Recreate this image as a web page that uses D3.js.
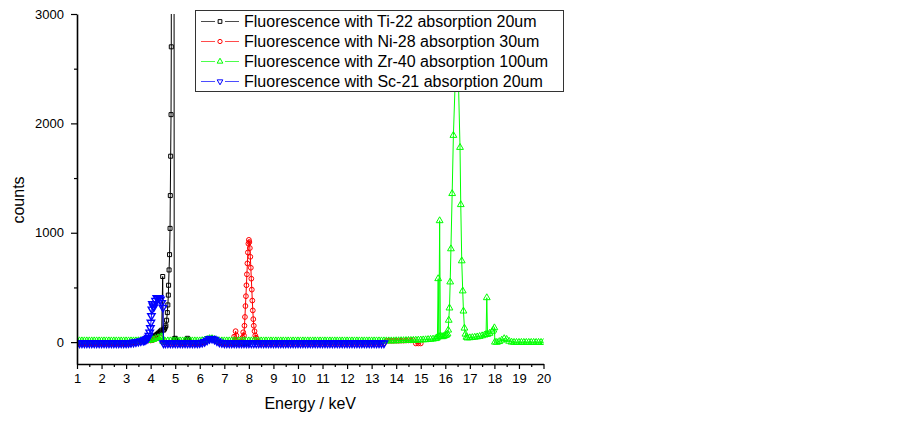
<!DOCTYPE html>
<html>
<head>
<meta charset="utf-8">
<script src="https://cdn.jsdelivr.net/npm/d3@7/dist/d3.min.js"></script>
<style>
  body { margin: 0; background: #fff; }
  text { font-family: "Liberation Sans", Arial, sans-serif; }
</style>
</head>
<body>
<svg id="chart" width="903" height="422"></svg>
<script>
// axis ticks
const xTicks = [1, 2, 3, 4, 5, 6, 7, 8, 9, 10, 11, 12, 13, 14, 15, 16, 17, 18, 19, 20];
const xMinorTicks = [1.5, 2.5, 3.5, 4.5, 5.5, 6.5, 7.5, 8.5, 9.5, 10.5, 11.5, 12.5, 13.5, 14.5, 15.5, 16.5, 17.5, 18.5, 19.5];
const yTicks = [0, 1000, 2000, 3000];
const yMinorTicks = [500, 1500, 2500];

const seriesNames = [
  "Fluorescence with Ti-22 absorption 20um",
  "Fluorescence with Ni-28 absorption 30um",
  "Fluorescence with Zr-40 absorption 100um",
  "Fluorescence with Sc-21 absorption 20um"
];
const seriesColors = ["#000000", "#ff0000", "#00ff00", "#0000ff"];

// [energy keV, counts]
const ti22 = [
  [1.0,-10],[1.1,-10],[1.2,-10],[1.3,-10],[1.4,-10],[1.5,-10],[1.6,-10],[1.7,-10],[1.8,-10],[1.9,-10],
  [2.0,-10],[2.1,-10],[2.2,-10],[2.3,-10],[2.4,-10],[2.5,-10],[2.6,-10],[2.7,-10],[2.8,-10],[2.9,-10],
  [3.0,-10],[3.1,-9],[3.2,-6],[3.3,-3],[3.4,1],[3.5,5],[3.6,10],[3.7,15],[3.8,20],[3.9,15],
  [4.0,15],[4.05,20],[4.1,40],[4.15,55],[4.2,60],[4.25,70],[4.3,80],[4.35,90],[4.4,100],[4.45,110],
  [4.49,600],[4.51,0],[4.53,110],[4.56,120],[4.59,135],[4.62,150],[4.65,200],[4.68,270],[4.7,340],
  [4.72,430],[4.73,520],[4.75,660],[4.77,800],[4.79,1040],[4.8,1340],[4.815,1700],[4.83,2080],[4.84,2700],
  [4.9,30000],[4.96,30],[5.0,35],[5.05,20],[5.1,5],[5.2,-5],[5.3,-8],[5.4,5],[5.45,25],[5.5,35],
  [5.55,25],[5.6,5],[5.7,-8],[5.8,-10],[5.9,-10],[6.0,-8],[6.1,-4],[6.2,3],[6.3,16],[6.4,30],
  [6.5,32],[6.6,23],[6.7,10],[6.8,-2],[6.9,-7],[7.0,-10],[7.1,-10],[7.2,-10],[7.3,-10],[7.4,-10],
  [7.5,-10],[7.6,-10],[7.7,-10],[7.8,-10],[7.9,-10],[8.0,-10]
];

const ni28 = [
  [1.0,-10],[1.1,-10],[1.2,-10],[1.3,-10],[1.4,-10],[1.5,-10],[1.6,-10],[1.7,-10],[1.8,-10],[1.9,-10],
  [2.0,-10],[2.1,-10],[2.2,-10],[2.3,-10],[2.4,-10],[2.5,-10],[2.6,-10],[2.7,-10],[2.8,-10],[2.9,-10],
  [3.0,-10],[3.1,-9],[3.2,-6],[3.3,-3],[3.4,1],[3.5,5],[3.6,10],[3.7,14],[3.8,14],[3.9,14],
  [4.0,15],[4.1,20],[4.2,30],[4.3,38],[4.4,42],[4.5,10],[4.6,-5],[4.7,-10],[4.8,-10],[4.9,-10],
  [5.0,-10],[5.1,-10],[5.2,-10],[5.3,-10],[5.4,-10],[5.5,-10],[5.6,-10],[5.7,-10],[5.8,-10],[5.9,-10],
  [6.0,-8],[6.1,-4],[6.2,3],[6.3,16],[6.4,30],[6.5,32],[6.6,23],[6.7,10],[6.8,-2],[6.9,-7],
  [7.0,-10],[7.1,-10],[7.2,-10],[7.3,-10],[7.36,-8],[7.4,50],[7.43,20],[7.46,100],[7.49,60],[7.52,10],
  [7.56,-5],[7.6,-8],[7.65,-5],[7.7,10],[7.74,40],[7.77,90],[7.8,60],[7.82,150],[7.84,230],[7.86,330],
  [7.88,420],[7.9,520],[7.92,620],[7.94,720],[7.96,820],[7.98,900],[8.0,935],[8.02,915],[8.04,860],[8.06,780],
  [8.08,680],[8.1,580],[8.12,480],[8.14,380],[8.16,290],[8.18,210],[8.2,150],[8.23,100],[8.26,60],[8.29,40],
  [8.32,30],[8.35,5],[8.4,-8],[8.5,-10],[8.6,-10],[8.7,-10],[8.8,-10],[8.9,-10],[9.0,-10],[9.1,-10],
  [9.2,-10],[9.3,-10],[9.4,-10],[9.5,-10],[9.6,-10],[9.7,-10],[9.8,-10],[9.9,-10],[10.0,-10],[10.1,-10],
  [10.2,-10],[10.3,-10],[10.4,-10],[10.5,-10],[10.6,-10],[10.7,-10],[10.8,-10],[10.9,-10],[11.0,-10],[11.1,-10],
  [11.2,-10],[11.3,-10],[11.4,-10],[11.5,-10],[11.6,-10],[11.7,-10],[11.8,-10],[11.9,-10],[12.0,-10],[12.1,-10],
  [12.2,-10],[12.3,-10],[12.4,-10],[12.5,-10],[12.6,-10],[12.7,-10],[12.8,-10],[12.9,-10],[13.0,-10],[13.1,-10],
  [13.2,-10],[13.3,-10],[13.4,-10],[13.5,-10],[13.6,12],[13.7,12],[13.8,12],[13.9,12],[14.0,13],[14.1,13],
  [14.2,14],[14.3,14],[14.4,15],[14.5,16],[14.6,16],[14.7,17],[14.8,-12],[14.9,-12],[15.0,-12]
];

const zr40 = [
  [1.0,12],[1.1,12],[1.2,12],[1.3,12],[1.4,12],[1.5,12],[1.6,12],[1.7,12],[1.8,12],[1.9,12],
  [2.0,12],[2.1,12],[2.2,12],[2.3,12],[2.4,12],[2.5,12],[2.6,12],[2.7,12],[2.8,12],[2.9,12],
  [3.0,12],[3.1,12],[3.2,12],[3.3,12],[3.4,12],[3.5,13],[3.6,14],[3.7,14],[3.8,15],[3.9,16],
  [4.0,18],[4.1,24],[4.2,32],[4.3,40],[4.4,45],[4.45,50],[4.5,8],[4.6,8],[4.7,12],[4.8,12],
  [4.9,12],[5.0,12],[5.1,12],[5.2,12],[5.3,12],[5.4,12],[5.5,12],[5.6,12],[5.7,12],[5.8,12],
  [5.9,12],[6.0,12],[6.1,14],[6.2,18],[6.3,24],[6.4,32],[6.5,32],[6.6,24],[6.7,16],[6.8,12],
  [6.9,12],[7.0,12],[7.1,12],[7.2,12],[7.3,12],[7.4,12],[7.5,12],[7.6,12],[7.7,12],[7.8,12],
  [7.9,12],[8.0,12],[8.1,12],[8.2,12],[8.3,12],[8.4,12],[8.5,12],[8.6,12],[8.7,12],[8.8,12],
  [8.9,12],[9.0,12],[9.1,12],[9.2,12],[9.3,12],[9.4,12],[9.5,12],[9.6,12],[9.7,12],[9.8,12],
  [9.9,12],[10.0,12],[10.1,12],[10.2,12],[10.3,12],[10.4,12],[10.5,12],[10.6,12],[10.7,12],[10.8,12],
  [10.9,12],[11.0,12],[11.1,12],[11.2,12],[11.3,12],[11.4,12],[11.5,12],[11.6,12],[11.7,12],[11.8,12],
  [11.9,12],[12.0,12],[12.1,12],[12.2,12],[12.3,12],[12.4,12],[12.5,12],[12.6,12],[12.7,12],[12.8,12],
  [12.9,12],[13.0,12],[13.1,12],[13.2,12],[13.3,12],[13.4,12],[13.5,12],[13.6,12],[13.7,12],[13.8,12],
  [13.9,12],[14.0,13],[14.1,13],[14.2,14],[14.3,14],[14.4,15],[14.5,16],[14.6,16],[14.7,17],[14.8,18],
  [14.9,19],[15.0,20],[15.1,21],[15.2,22],[15.3,24],[15.4,26],[15.5,28],[15.6,32],[15.65,36],[15.68,45],
  [15.71,580],[15.74,50],[15.77,1110],[15.8,55],[15.85,50],[15.9,50],[15.95,55],[16.0,60],[16.05,65],[16.09,75],
  [16.12,110],[16.14,200],[16.17,312],[16.2,550],[16.23,853],[16.28,1358],[16.33,1890],[16.48,2900],[16.6,1780],[16.63,1257],
  [16.67,743],[16.71,468],[16.74,284],[16.78,128],[16.82,73],[16.86,45],[16.9,38],[17.0,40],[17.1,42],[17.2,45],
  [17.3,48],[17.4,52],[17.5,58],[17.6,65],[17.66,70],[17.69,406],[17.72,72],[17.8,80],[17.9,95],[17.96,110],
  [18.0,131],[18.02,0],[18.1,-2],[18.2,5],[18.3,18],[18.4,32],[18.5,25],[18.6,8],[18.7,0],[18.8,-2],
  [18.9,-2],[19.0,-2],[19.1,-2],[19.2,-2],[19.3,-2],[19.4,-2],[19.5,-2],[19.6,-2],[19.7,-2],[19.8,-2],
  [19.9,-2],[20.0,-2]
];

const sc21 = [
  [1.0,-10],[1.1,-10],[1.2,-10],[1.3,-10],[1.4,-10],[1.5,-10],[1.6,-10],[1.7,-10],[1.8,-10],[1.9,-10],
  [2.0,-10],[2.1,-10],[2.2,-10],[2.3,-10],[2.4,-10],[2.5,-10],[2.6,-10],[2.7,-10],[2.8,-10],[2.9,-10],
  [3.0,-10],[3.1,-9],[3.2,-6],[3.3,-3],[3.4,1],[3.5,5],[3.6,10],[3.7,15],[3.75,18],[3.8,22],
  [3.85,30],[3.9,42],[3.93,60],[3.96,90],[3.99,130],[4.01,180],[4.03,240],[4.05,300],[4.07,350],[4.1,330],
  [4.13,320],[4.16,350],[4.2,380],[4.25,405],[4.3,400],[4.35,405],[4.4,390],[4.45,360],[4.5,315],[4.52,-10],
  [4.6,-10],[4.7,-10],[4.8,-10],[4.9,-10],[5.0,-10],[5.1,-10],[5.2,-10],[5.3,-10],[5.4,-10],[5.5,-10],
  [5.6,-10],[5.7,-10],[5.8,-10],[5.9,-10],[6.0,-8],[6.1,-4],[6.2,3],[6.3,16],[6.4,30],[6.5,32],
  [6.6,23],[6.7,10],[6.8,-2],[6.9,-7],[7.0,-10],[7.1,-10],[7.2,-10],[7.3,-10],[7.4,-10],[7.5,-10],
  [7.6,-10],[7.7,-10],[7.8,-10],[7.9,-10],[8.0,-10],[8.1,-10],[8.2,-10],[8.3,-10],[8.4,-10],[8.5,-10],
  [8.6,-10],[8.7,-10],[8.8,-10],[8.9,-10],[9.0,-10],[9.1,-10],[9.2,-10],[9.3,-10],[9.4,-10],[9.5,-10],
  [9.6,-10],[9.7,-10],[9.8,-10],[9.9,-10],[10.0,-10],[10.1,-10],[10.2,-10],[10.3,-10],[10.4,-10],[10.5,-10],
  [10.6,-10],[10.7,-10],[10.8,-10],[10.9,-10],[11.0,-10],[11.1,-10],[11.2,-10],[11.3,-10],[11.4,-10],[11.5,-10],
  [11.6,-10],[11.7,-10],[11.8,-10],[11.9,-10],[12.0,-10],[12.1,-10],[12.2,-10],[12.3,-10],[12.4,-10],[12.5,-10],
  [12.6,-10],[12.7,-10],[12.8,-10],[12.9,-10],[13.0,-10],[13.1,-10],[13.2,-10],[13.3,-10],[13.4,-10],[13.5,-10]
];

const allSeries = [ti22, ni28, zr40, sc21];
const symbolTypes = [d3.symbolSquare, d3.symbolCircle, d3.symbolTriangle, d3.symbolTriangle];
const symbolSizes = [16, 18, 20, 24];
const symbolRotate = [0, 0, 0, 180];
const symbolStroke = [1, 1, 1, 1.4];

const svg = d3.select("#chart");

const x = d3.scaleLinear().domain([1, 20]).range([77, 543.5]);
const y = d3.scaleLinear().domain([-200, 3000]).range([364, 14]);

svg.append("defs").append("clipPath").attr("id", "plotClip")
  .append("rect")
  .attr("x", x.range()[0])
  .attr("y", y.range()[1])
  .attr("width", x.range()[1] - x.range()[0])
  .attr("height", y.range()[0] - y.range()[1]);

// series, drawn in legend order so blue ends on top
const plot = svg.append("g").attr("clip-path", "url(#plotClip)");
const line = d3.line().x(d => x(d[0])).y(d => y(d[1]));

allSeries.forEach((data, i) => {
  const g = plot.append("g");
  g.append("path")
    .datum(data)
    .attr("d", line)
    .attr("fill", "none")
    .attr("stroke", seriesColors[i])
    .attr("stroke-width", 1);

  const sym = d3.symbol().type(symbolTypes[i]).size(symbolSizes[i]);
  g.selectAll("path.pt")
    .data(data)
    .join("path")
    .attr("class", "pt")
    .attr("d", sym)
    .attr("transform", d => `translate(${x(d[0])},${y(d[1])}) rotate(${symbolRotate[i]})`)
    .attr("fill", "none")
    .attr("stroke", seriesColors[i])
    .attr("stroke-width", symbolStroke[i]);
});

// axes
const xAxis = svg.append("g")
  .attr("transform", `translate(0,${y.range()[0]})`)
  .call(d3.axisBottom(x).tickValues(xTicks).tickSize(5).tickSizeOuter(0).tickPadding(5).tickFormat(d3.format("d")));
svg.append("g")
  .attr("transform", `translate(0,${y.range()[0]})`)
  .call(d3.axisBottom(x).tickValues(xMinorTicks).tickSize(3).tickSizeOuter(0).tickFormat(""))
  .call(g => g.select(".domain").remove());

const yAxis = svg.append("g")
  .attr("transform", `translate(${x.range()[0]},0)`)
  .call(d3.axisLeft(y).tickValues(yTicks).tickSize(6).tickSizeOuter(0).tickPadding(7).tickFormat(d3.format("d")));
svg.append("g")
  .attr("transform", `translate(${x.range()[0]},0)`)
  .call(d3.axisLeft(y).tickValues(yMinorTicks).tickSize(3).tickSizeOuter(0).tickFormat(""))
  .call(g => g.select(".domain").remove());

[xAxis, yAxis].forEach(a => {
  a.select(".domain").attr("stroke-width", 1.6);
  a.selectAll("text")
    .attr("font-size", 13)
    .attr("font-family", '"Liberation Sans", Arial, sans-serif')
    .attr("fill", "#000");
});
svg.selectAll(".tick line").attr("stroke-width", 1.2);

// axis titles
svg.append("text")
  .attr("x", (x.range()[0] + x.range()[1]) / 2)
  .attr("y", 409)
  .attr("text-anchor", "middle")
  .attr("font-size", 16)
  .text("Energy / keV");

svg.append("text")
  .attr("transform", "translate(23.5,200) rotate(-90)")
  .attr("text-anchor", "middle")
  .attr("font-size", 16)
  .text("counts");

// legend
const legend = svg.append("g");
legend.append("rect")
  .attr("x", 195.5).attr("y", 10.5)
  .attr("width", 368).attr("height", 81)
  .attr("fill", "#fff")
  .attr("stroke", "#333")
  .attr("stroke-width", 1);

seriesNames.forEach((name, i) => {
  const cy = 21.5 + i * 20;
  const row = legend.append("g");
  row.append("line").attr("x1", 201).attr("x2", 215).attr("y1", cy).attr("y2", cy)
    .attr("stroke", seriesColors[i]).attr("stroke-width", 1).attr("stroke-opacity", 0.7);
  row.append("line").attr("x1", 225).attr("x2", 239).attr("y1", cy).attr("y2", cy)
    .attr("stroke", seriesColors[i]).attr("stroke-width", 1).attr("stroke-opacity", 0.7);
  row.append("path")
    .attr("d", d3.symbol().type(symbolTypes[i]).size(14)())
    .attr("transform", `translate(220,${cy}) rotate(${symbolRotate[i]})`)
    .attr("fill", "none")
    .attr("stroke", seriesColors[i])
    .attr("stroke-width", 1);
  row.append("text")
    .attr("x", 244)
    .attr("y", cy + 5.8)
    .attr("font-size", 16)
    .attr("fill", "#000")
    .text(name);
});
</script>
</body>
</html>
